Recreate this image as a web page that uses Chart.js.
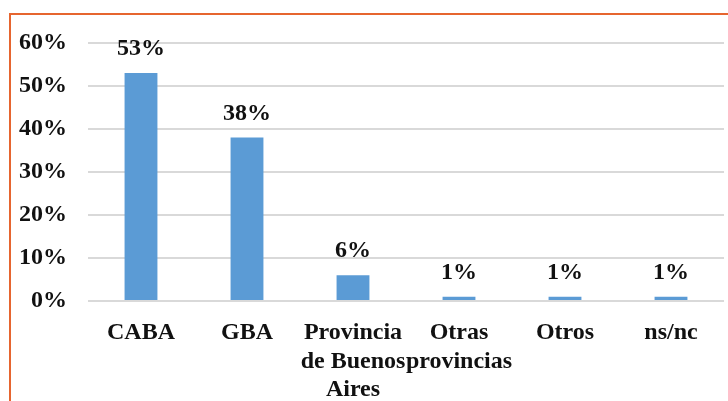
<!DOCTYPE html>
<html>
<head>
<meta charset="utf-8">
<script src="https://cdn.jsdelivr.net/npm/chart.js@4/dist/chart.umd.min.js"></script>
<style>
  body { margin: 0; background: #fff; }
  #wrap { position: relative; width: 728px; height: 401px; }
  #frame {
    position: absolute; left: 9px; top: 13px; right: 0; bottom: 0;
    border-top: 2px solid #e6652f; border-left: 2px solid #e6652f;
  }
  canvas { position: absolute; left: 0; top: 0; }
</style>
</head>
<body>
<div id="wrap">
  <div id="frame"></div>
  <canvas id="lugarChart" width="728" height="401"></canvas>
</div>
<script>
// Lugar de residencia
const lugares = [
  'CABA',
  'GBA',
  ['Provincia', 'de Buenos', 'Aires'],
  ['Otras', 'provincias'],
  'Otros',
  'ns/nc'
];
const porcentajes = [53, 38, 6, 1, 1, 1];
const yTicks = [0, 10, 20, 30, 40, 50, 60];

const serif = 'Liberation Serif, Times New Roman, serif';

// value labels above each bar
const valueLabels = {
  id: 'valueLabels',
  afterDatasetsDraw(chart) {
    const ctx = chart.ctx;
    const meta = chart.getDatasetMeta(0);
    ctx.save();
    ctx.font = 'bold 24px ' + serif;
    ctx.fillStyle = '#111';
    ctx.textAlign = 'center';
    ctx.textBaseline = 'middle';
    meta.data.forEach((bar, i) => {
      ctx.fillText(porcentajes[i] + '%', bar.x, bar.y - 24);
    });
    ctx.restore();
  }
};

const lugarData = {
  labels: lugares,
  datasets: [{
    data: porcentajes,
    backgroundColor: '#5b9bd5',
    barPercentage: 0.62,
    categoryPercentage: 0.5,
  }]
};

const config = {
  type: 'bar',
  data: lugarData,
  plugins: [valueLabels],
  options: {
    responsive: false,
    animation: false,
    layout: { padding: { top: 43, right: 4, left: 0, bottom: 0 } },
    plugins: { legend: { display: false }, tooltip: { enabled: false } },
    scales: {
      x: {
        grid: { display: false },
        border: { display: false },
        ticks: {
          autoSkip: false,
          maxRotation: 0,
          padding: 10,
          color: '#111',
          font: { family: serif, size: 24, weight: 'bold', lineHeight: 1.18 }
        },
        afterFit(scale) { scale.height = 100; }
      },
      y: {
        min: 0,
        max: 60,
        afterBuildTicks(scale) { scale.ticks = yTicks.map(v => ({ value: v })); },
        grid: { color: '#d9d9d9', lineWidth: 2, drawTicks: false },
        border: { display: false },
        ticks: {
          padding: 21,
          color: '#111',
          font: { family: serif, size: 24, weight: 'bold' },
          callback: v => v + '%'
        },
        afterFit(scale) { scale.width = 88; }
      }
    }
  }
};

const lugarChart = new Chart(document.getElementById('lugarChart'), config);
</script>
</body>
</html>
